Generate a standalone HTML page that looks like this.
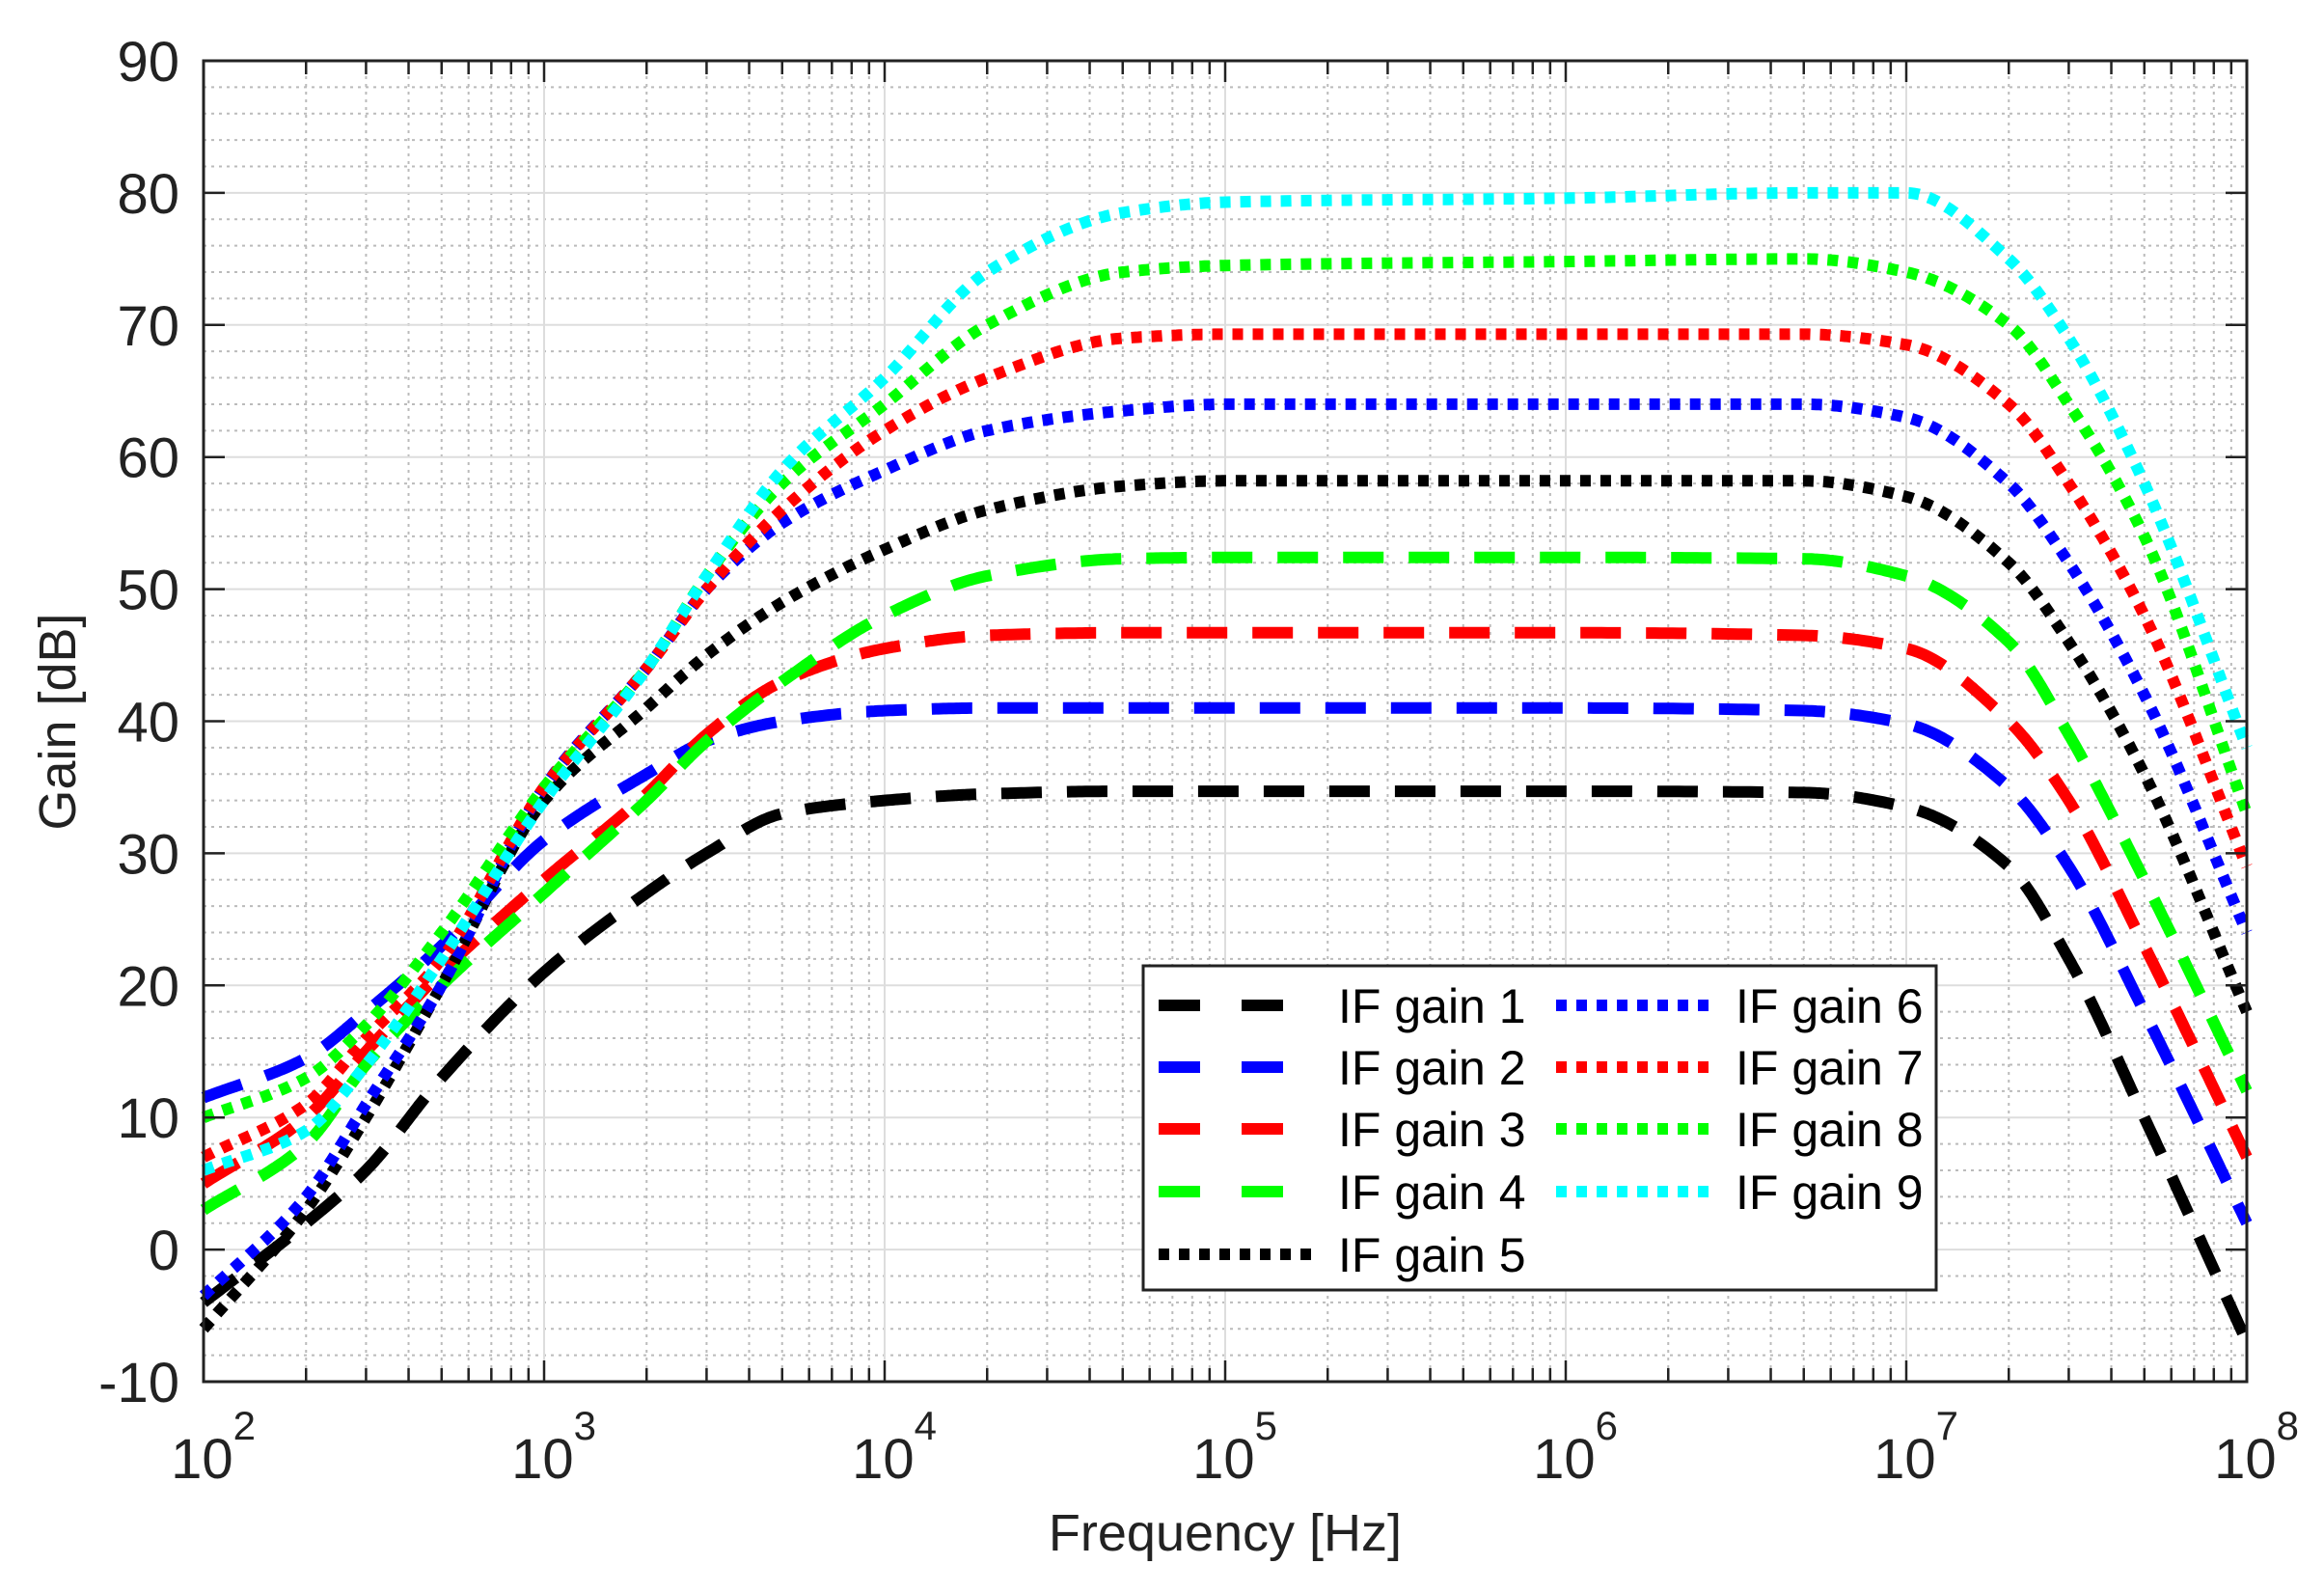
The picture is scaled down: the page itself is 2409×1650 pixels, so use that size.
<!DOCTYPE html>
<html><head><meta charset="utf-8"><style>
html,body{margin:0;padding:0;background:#fff;}
svg{display:block;font-family:"Liberation Sans",Arial,sans-serif;}
</style></head><body>
<svg id="chart" width="2409" height="1650" viewBox="0 0 2409 1650" xmlns="http://www.w3.org/2000/svg">
<g id="grid"></g>
<g id="series"></g>
<g id="axes"></g>
<g id="legend"></g>
</svg>
<script>
const freqs = [100,200,300,500,1e3,2e3,3e3,5e3,1e4,2e4,5e4,1e5,1e6,5e6,1e7,2e7,3e7,5e7,1e8];
const gain1 = [-4,2,6,13,21,27,30,33,34,34.5,34.7,34.7,34.7,34.6,33.5,29,22,10,-7];
const gain2 = [11.5,14.5,18,23,31,36,38.5,40,40.8,41,41,41,41,40.8,39.8,35,29,18,2];
const gain3 = [5,10,15,21,28,34.5,39,43,45.5,46.5,46.7,46.7,46.7,46.5,45.5,40,34,23,7];
const gain4 = [3,8,14,20,27,34,38.5,43,48,51,52.3,52.4,52.4,52.3,51,46,39,28,12];
const gain5 = [-6,3,10,20,34,41,45,49,53,56,57.8,58.2,58.2,58.2,57,52,46,36,18];
const gain6 = [-3.5,4,11,20,35,44,50,55,59,62,63.5,64,64,64,63,58,52,42,24];
const gain7 = [7,11,16,22,35,44,50,56,62,66,69,69.3,69.3,69.3,68.5,64,58,48,29];
const gain8 = [10,13,17,24,35,44,51,58,64,70,74,74.5,74.8,75,74,70,64,54,33];
const gain9 = [6,9,14,22,34,44,51,59,66,74,78.5,79.3,79.6,80,80,75,69,58,38];
const seriesNames = ["IF gain 1","IF gain 2","IF gain 3","IF gain 4","IF gain 5","IF gain 6","IF gain 7","IF gain 8","IF gain 9"];
const yTicks = [-10,0,10,20,30,40,50,60,70,80,90];
const xDecades = [2,3,4,5,6,7,8];

const allSeries=[gain1,gain2,gain3,gain4,gain5,gain6,gain7,gain8,gain9];
const colors=["#000","#00f","#f00","#0f0","#000","#00f","#f00","#0f0","#0ff"];
const dashed=[true,true,true,true,false,false,false,false,false];
const L=211,R=2329,T=63,B=1432;
const NS="http://www.w3.org/2000/svg";
function xs(f){return L+(Math.log10(f)-2)/6*(R-L);}
function ys(v){return B-(v+10)/100*(B-T);}
function mk(tag,attrs,parent){const e=document.createElementNS(NS,tag);for(const k in attrs)e.setAttribute(k,attrs[k]);parent.appendChild(e);return e;}
const grid=document.getElementById('grid'),axes=document.getElementById('axes'),ser=document.getElementById('series'),leg=document.getElementById('legend');
for(let d=2;d<8;d++)for(let m=2;m<10;m++){const x=xs(m*Math.pow(10,d));
 const l=mk('line',{x1:x,x2:x,y1:T,y2:B,stroke:'#bbb','stroke-width':2,'stroke-dasharray':'3 5'},grid);
 
 const t=mk('line',{x1:x,x2:x,y1:B,y2:B-14,stroke:'#222','stroke-width':2.5},axes);
 
 const t2=mk('line',{x1:x,x2:x,y1:T,y2:T+14,stroke:'#222','stroke-width':2.5},axes);
 }
for(let v=-8;v<90;v+=2){if(v%10===0)continue;const y=ys(v);
 const l=mk('line',{x1:L,x2:R,y1:y,y2:y,stroke:'#bbb','stroke-width':2,'stroke-dasharray':'3 5'},grid);
 }
xDecades.forEach(d=>{const x=xs(Math.pow(10,d));
 const l=mk('line',{x1:x,x2:x,y1:T,y2:B,stroke:'#ddd','stroke-width':2},grid);
 
 const t=mk('line',{x1:x,x2:x,y1:B,y2:B-22,stroke:'#222','stroke-width':2.5},axes);
 
 const t2=mk('line',{x1:x,x2:x,y1:T,y2:T+22,stroke:'#222','stroke-width':2.5},axes);
 
 const tx=mk('text',{x:x+10,y:1532,'font-size':58,'text-anchor':'middle',fill:'#222'},axes);
 
 tx.textContent='10';const sp=mk('tspan',{dy:-40,'font-size':42},tx);sp.textContent=String(d);});
yTicks.forEach(v=>{const y=ys(v);
 const l=mk('line',{x1:L,x2:R,y1:y,y2:y,stroke:'#ddd','stroke-width':2},grid);
 
 const t=mk('line',{x1:L,x2:L+22,y1:y,y2:y,stroke:'#222','stroke-width':2.5},axes);
 
 const t2=mk('line',{x1:R,x2:R-22,y1:y,y2:y,stroke:'#222','stroke-width':2.5},axes);
 
 const tx=mk('text',{x:186,y:y+21,'font-size':58,'text-anchor':'end',fill:'#222'},axes);
 tx.textContent=String(v);});
const box=mk('rect',{x:L,y:T,width:R-L,height:B-T,fill:'none',stroke:'#222','stroke-width':3},axes);

const xl=mk('text',{x:1270,y:1607,'font-size':54,'text-anchor':'middle',fill:'#222'},axes);
xl.textContent='Frequency [Hz]';
const yl=mk('text',{x:0,y:0,'font-size':54,'text-anchor':'middle',fill:'#222',transform:'translate(78,748) rotate(-90)'},axes);
yl.textContent='Gain [dB]';
// monotone cubic interpolation in log-frequency
function pathFor(vals){
 const X=freqs.map(f=>Math.log10(f)),n=X.length,h=[],dl=[],m=new Array(n);
 for(let i=0;i<n-1;i++){h[i]=X[i+1]-X[i];dl[i]=(vals[i+1]-vals[i])/h[i];}
 m[0]=dl[0];m[n-1]=dl[n-2];
 for(let i=1;i<n-1;i++){if(dl[i-1]*dl[i]<=0)m[i]=0;else{const w1=2*h[i]+h[i-1],w2=h[i]+2*h[i-1];m[i]=(w1+w2)/(w1/dl[i-1]+w2/dl[i]);}}
 const pts=[];
 for(let i=0;i<n-1;i++){for(let k=0;k<40;k++){const t=k/40,t2=t*t,t3=t2*t;
  const v=(2*t3-3*t2+1)*vals[i]+(t3-2*t2+t)*h[i]*m[i]+(-2*t3+3*t2)*vals[i+1]+(t3-t2)*h[i]*m[i+1];
  const x=X[i]+t*h[i];pts.push([L+(x-2)/6*(R-L),ys(v)]);}}
 pts.push([xs(freqs[n-1]),ys(vals[n-1])]);
 return 'M'+pts.map(p=>p[0].toFixed(1)+','+p[1].toFixed(1)).join(' L');}
allSeries.forEach((vals,i)=>{const pa=mk('path',{d:pathFor(vals),fill:'none',stroke:colors[i],'stroke-width':12,'stroke-dasharray':dashed[i]?'42 26':'11 10'},ser);
 });
const lb=mk('rect',{x:1185,y:1001,width:822,height:336,fill:'#fff',stroke:'#222','stroke-width':3},leg);

const rowsY=[1042,1106,1170,1235,1300];
seriesNames.forEach((n,i)=>{const col=i<5?0:1,row=i<5?i:i-5;const y=rowsY[row];
 const x1=col?1613:1201,x2=col?1775:(dashed[i]?1331:1364),tx=col?1799:1387;
 const g=mk('g',{},leg);
 const ln=mk('line',{x1:x1,x2:x2,y1:y,y2:y,stroke:colors[i],'stroke-width':12,'stroke-dasharray':dashed[i]?'43 43':'11 10'},g);
 
 const t=mk('text',{x:tx,y:y+18,'font-size':50,fill:'#000'},g);
 t.textContent=n;});
</script>
</body></html>
